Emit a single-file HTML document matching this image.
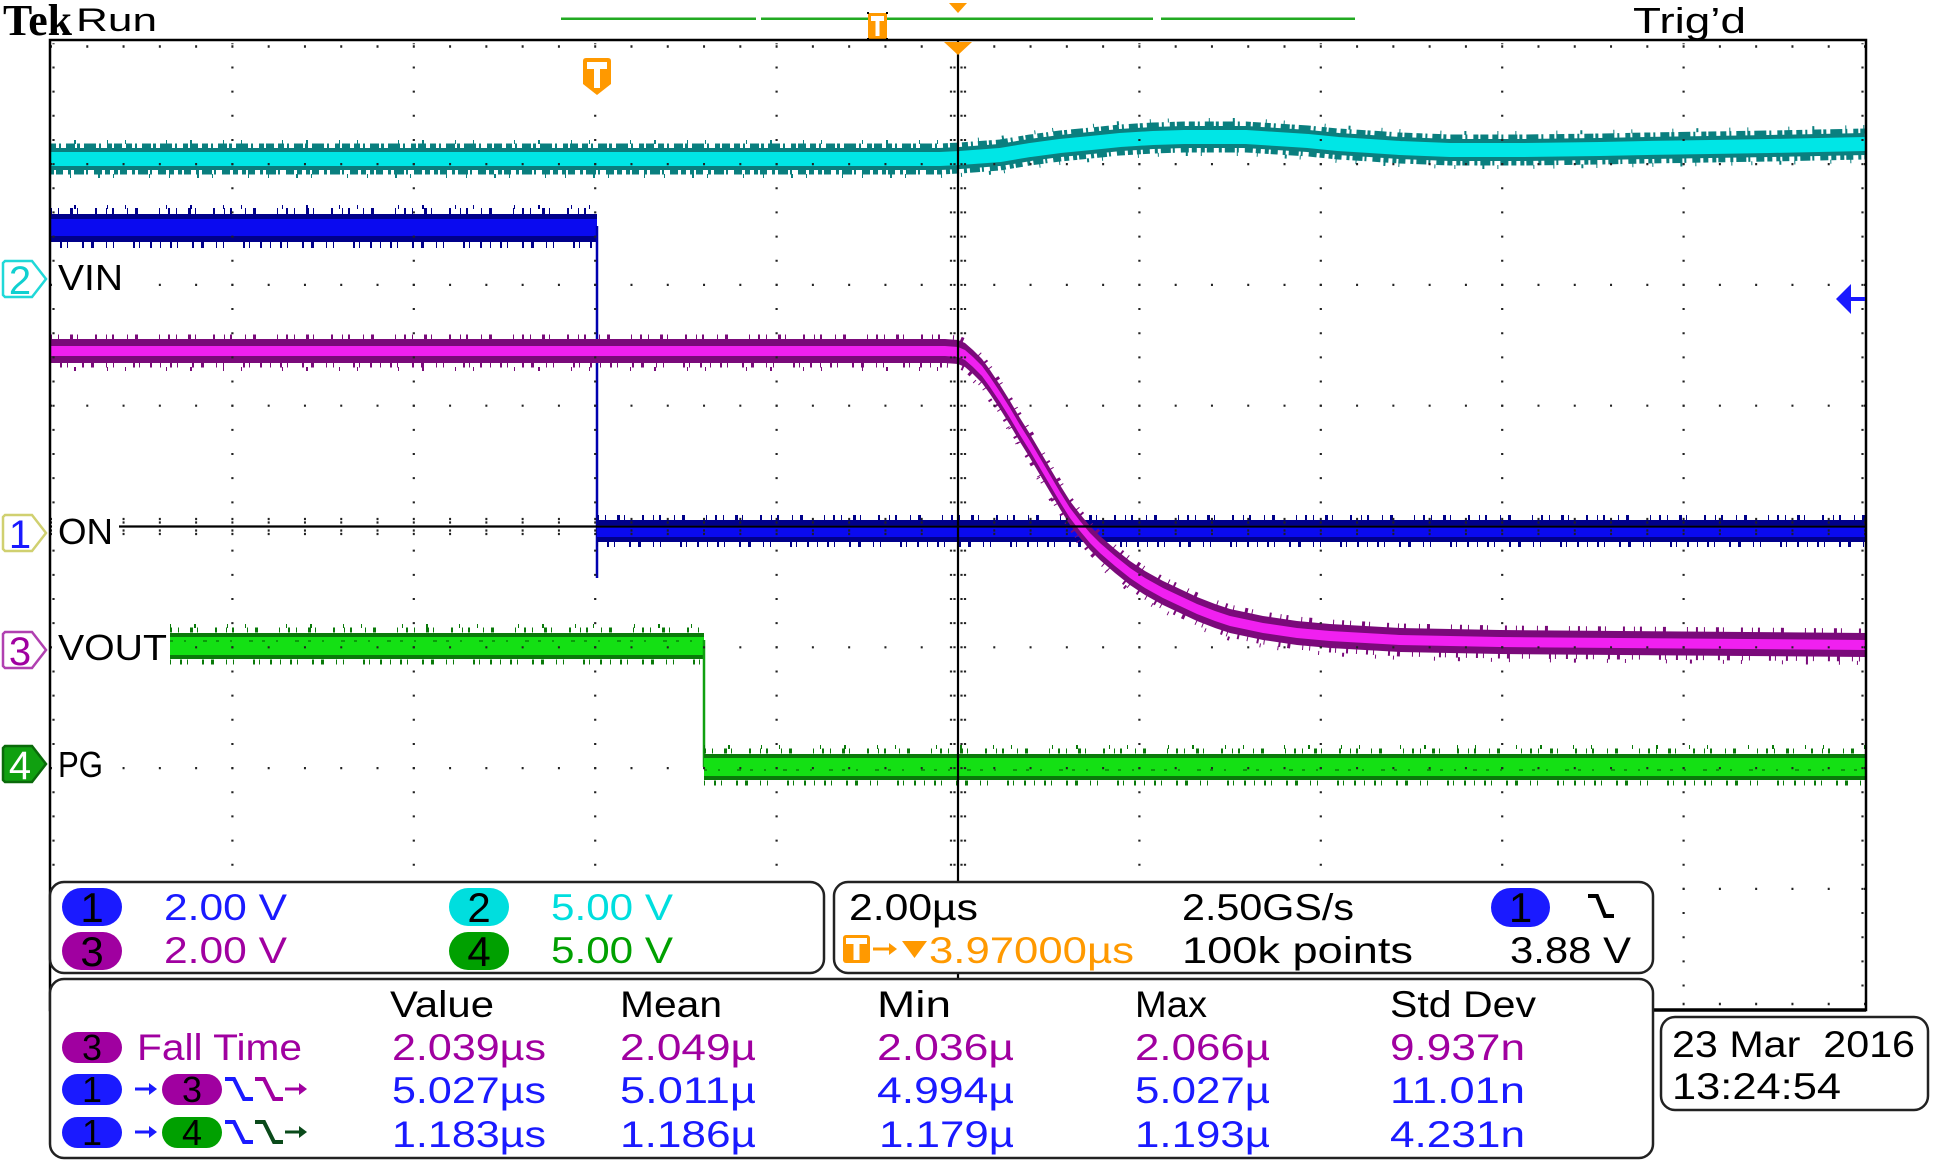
<!DOCTYPE html>
<html><head><meta charset="utf-8">
<style>
html,body{margin:0;padding:0;background:#fff;}
body{width:1935px;height:1161px;overflow:hidden;}
svg{display:block;}
text{font-family:"Liberation Sans",sans-serif;}
</style></head>
<body>
<svg width="1935" height="1161" viewBox="0 0 1935 1161" xmlns="http://www.w3.org/2000/svg">
<rect x="0" y="0" width="1935" height="1161" fill="#fff"/>

<!-- header -->
<text x="3" y="35" style="font-family:'Liberation Serif',serif" font-weight="bold" font-size="44" textLength="69" lengthAdjust="spacingAndGlyphs">Tek</text>
<text x="76" y="31" font-size="32" textLength="81" lengthAdjust="spacingAndGlyphs">Run</text>
<text x="1633" y="33" font-size="36" textLength="113" lengthAdjust="spacingAndGlyphs">Trig’d</text>

<g stroke="#22aa22" stroke-width="2.5">
<line x1="561" y1="18.7" x2="756" y2="18.7"/>
<line x1="761" y1="18.7" x2="1153" y2="18.7"/>
<line x1="1161" y1="18.7" x2="1355" y2="18.7"/>
</g>
<rect x="868" y="13" width="19" height="26" fill="#ff9900"/>
<rect x="871" y="16" width="13" height="5" fill="#fff"/>
<rect x="875.5" y="16" width="4" height="20" fill="#fff"/>
<g fill="#000"><rect x="867" y="12" width="2" height="2"/><rect x="886" y="12" width="2" height="2"/><rect x="867" y="38" width="2" height="2"/><rect x="886" y="38" width="2" height="2"/></g>
<polygon points="949,3 967,3 958,13" fill="#ff9900"/>

<!-- ===== TRACES ===== -->
<!-- cyan ch2 -->
<g fill="none">
<path d="M50,159 L940,159 L960,158 L1000,155 L1030,150 L1060,146 L1091,143 L1120,140 L1153,138 L1184,137 L1215,137 L1246,137 L1277,139 L1308,141 L1338,144 L1370,146 L1400,148 L1450,150 L1523,150 L1600,149 L1647,148 L1710,147 L1770,146 L1865,144" stroke="#0a7f7f" stroke-width="22"/>
<path d="M50,159 L940,159 L960,158 L1000,155 L1030,150 L1060,146 L1091,143 L1120,140 L1153,138 L1184,137 L1215,137 L1246,137 L1277,139 L1308,141 L1338,144 L1370,146 L1400,148 L1450,150 L1523,150 L1600,149 L1647,148 L1710,147 L1770,146 L1865,144" transform="translate(0,-13)" stroke="#0a7f7f" stroke-width="5" stroke-dasharray="6 3 2 5 9 2 3 4 12 3 2 6 5 2 8 4"/>
<path d="M50,159 L940,159 L960,158 L1000,155 L1030,150 L1060,146 L1091,143 L1120,140 L1153,138 L1184,137 L1215,137 L1246,137 L1277,139 L1308,141 L1338,144 L1370,146 L1400,148 L1450,150 L1523,150 L1600,149 L1647,148 L1710,147 L1770,146 L1865,144" transform="translate(0,13)" stroke="#0a7f7f" stroke-width="5" stroke-dasharray="4 2 7 5 3 3 10 2 2 6 8 3 5 4"/>
<path d="M50,159 L940,159 L960,158 L1000,155 L1030,150 L1060,146 L1091,143 L1120,140 L1153,138 L1184,137 L1215,137 L1246,137 L1277,139 L1308,141 L1338,144 L1370,146 L1400,148 L1450,150 L1523,150 L1600,149 L1647,148 L1710,147 L1770,146 L1865,144" transform="translate(0,-17)" stroke="#0a7f7f" stroke-width="4" stroke-dasharray="1 23 2 31 1 17 1 40"/>
<path d="M50,159 L940,159 L960,158 L1000,155 L1030,150 L1060,146 L1091,143 L1120,140 L1153,138 L1184,137 L1215,137 L1246,137 L1277,139 L1308,141 L1338,144 L1370,146 L1400,148 L1450,150 L1523,150 L1600,149 L1647,148 L1710,147 L1770,146 L1865,144" transform="translate(0,17)" stroke="#0a7f7f" stroke-width="4" stroke-dasharray="1 19 1 27 2 13 1 35"/>
<path d="M50,159 L940,159 L960,158 L1000,155 L1030,150 L1060,146 L1091,143 L1120,140 L1153,138 L1184,137 L1215,137 L1246,137 L1277,139 L1308,141 L1338,144 L1370,146 L1400,148 L1450,150 L1523,150 L1600,149 L1647,148 L1710,147 L1770,146 L1865,144" stroke="#00e6e6" stroke-width="14"/>
</g>

<!-- blue ch1 -->
<g>
<rect x="50" y="214" width="547" height="28" fill="#00008a"/>
<line x1="50" y1="211" x2="597" y2="211" stroke="#00008a" stroke-width="6" stroke-dasharray="2 6 1 11 3 4 1 17 2 9 1 5 2 13 1 7 3 21 1 8"/>
<line x1="50" y1="245" x2="597" y2="245" stroke="#00008a" stroke-width="6" stroke-dasharray="1 9 2 5 1 14 2 7 3 12 1 6 1 19 2 4 1 10 2 8"/>
<line x1="50" y1="207" x2="597" y2="207" stroke="#00008a" stroke-width="4" stroke-dasharray="1 23 2 31 1 17 1 40"/>
<rect x="50" y="219" width="547" height="17" fill="#0a0af0"/>
<line x1="597" y1="226" x2="597" y2="578" stroke="#0000b0" stroke-width="2.5"/>
<rect x="597" y="520" width="1269" height="22" fill="#00008a"/>
<line x1="597" y1="517.5" x2="1866" y2="517.5" stroke="#00008a" stroke-width="5" stroke-dasharray="2 6 1 11 3 4 1 17 2 9 1 5 2 13 1 7 3 21 1 8"/>
<line x1="597" y1="544.5" x2="1866" y2="544.5" stroke="#00008a" stroke-width="5" stroke-dasharray="1 9 2 5 1 14 2 7 3 12 1 6 1 19 2 4 1 10 2 8"/>
<rect x="597" y="525" width="1269" height="12" fill="#0a0af0"/>
</g>

<!-- green ch4 -->
<g>
<rect x="170" y="633" width="534" height="26" fill="#0a7a0a"/>
<line x1="170" y1="630" x2="704" y2="630" stroke="#0a7a0a" stroke-width="5" stroke-dasharray="2 6 1 11 3 4 1 17 2 9 1 5 2 13 1 7 3 21 1 8"/>
<line x1="170" y1="662" x2="704" y2="662" stroke="#0a7a0a" stroke-width="5" stroke-dasharray="1 9 2 5 1 14 2 7 3 12 1 6 1 19 2 4 1 10 2 8"/>
<line x1="170" y1="626" x2="704" y2="626" stroke="#0a7a0a" stroke-width="4" stroke-dasharray="1 23 2 31 1 17 1 40"/>
<rect x="170" y="637" width="534" height="18" fill="#14e014"/>
<line x1="170" y1="641" x2="704" y2="641" stroke="#0a9a0a" stroke-width="2" stroke-dasharray="3 11 2 17 4 9"/>
<line x1="704" y1="640" x2="704" y2="767" stroke="#10a010" stroke-width="2.5"/>
<rect x="704" y="754" width="1162" height="26" fill="#0a7a0a"/>
<line x1="704" y1="751" x2="1866" y2="751" stroke="#0a7a0a" stroke-width="5" stroke-dasharray="2 6 1 11 3 4 1 17 2 9 1 5 2 13 1 7 3 21 1 8"/>
<line x1="704" y1="783" x2="1866" y2="783" stroke="#0a7a0a" stroke-width="5" stroke-dasharray="1 9 2 5 1 14 2 7 3 12 1 6 1 19 2 4 1 10 2 8"/>
<line x1="704" y1="747" x2="1866" y2="747" stroke="#0a7a0a" stroke-width="4" stroke-dasharray="1 23 2 31 1 17 1 40"/>
<rect x="704" y="758" width="1162" height="18" fill="#14e014"/>
<line x1="704" y1="770" x2="1866" y2="770" stroke="#0a9a0a" stroke-width="2" stroke-dasharray="3 11 2 17 4 9"/>
</g>

<!-- magenta ch3 -->
<g>
<polygon fill="#7a0a7a" points="50,339 945,339 958,340 965,343 973,350 982,359 990,370 1000,385 1010,401 1020,418 1030,434 1040,451 1050,468 1060,485 1070,501 1080,514 1090,526 1100,536 1115,549 1130,561 1145,571 1163,581 1180,589 1197,597 1215,604 1230,609 1263,616 1297,621 1330,624 1400,628 1500,630 1866,633 1866,657 1500,654 1400,652 1330,648 1297,645 1263,640 1230,633 1215,628 1197,621 1180,613 1163,605 1145,595 1130,585 1115,573 1100,560 1090,550 1080,538 1070,525 1060,509 1050,492 1040,475 1030,458 1020,442 1010,425 1000,409 990,394 982,383 973,374 965,367 958,364 945,363 50,363"/>
<polyline fill="none" stroke="#7a0a7a" stroke-width="5" transform="translate(0,-14)" stroke-dasharray="2 6 1 11 3 4 1 17 2 9 1 5 2 13 1 7 3 21 1 8" points="50,351 945,351 958,352 965,355 973,362 982,371 990,382 1000,397 1010,413 1020,430 1030,446 1040,463 1050,480 1060,497 1070,513 1080,526 1090,538 1100,548 1115,561 1130,573 1145,583 1163,593 1180,601 1197,609 1215,616 1230,621 1263,628 1297,633 1330,636 1400,640 1500,642 1866,645"/>
<polyline fill="none" stroke="#7a0a7a" stroke-width="5" transform="translate(0,14)" stroke-dasharray="1 9 2 5 1 14 2 7 3 12 1 6 1 19 2 4 1 10 2 8" points="50,351 945,351 958,352 965,355 973,362 982,371 990,382 1000,397 1010,413 1020,430 1030,446 1040,463 1050,480 1060,497 1070,513 1080,526 1090,538 1100,548 1115,561 1130,573 1145,583 1163,593 1180,601 1197,609 1215,616 1230,621 1263,628 1297,633 1330,636 1400,640 1500,642 1866,645"/>
<polyline fill="none" stroke="#7a0a7a" stroke-width="4" transform="translate(0,18)" stroke-dasharray="1 23 2 31 1 17 1 40" points="50,351 945,351 958,352 965,355 973,362 982,371 990,382 1000,397 1010,413 1020,430 1030,446 1040,463 1050,480 1060,497 1070,513 1080,526 1090,538 1100,548 1115,561 1130,573 1145,583 1163,593 1180,601 1197,609 1215,616 1230,621 1263,628 1297,633 1330,636 1400,640 1500,642 1866,645"/>
<polygon fill="#f020f0" points="50,346 945,346 958,347 965,350 973,357 982,366 990,377 1000,392 1010,408 1020,425 1030,441 1040,458 1050,475 1060,492 1070,508 1080,521 1090,533 1100,543 1115,556 1130,568 1145,578 1163,588 1180,596 1197,604 1215,611 1230,616 1263,623 1297,628 1330,631 1400,635 1500,637 1866,640 1866,650 1500,647 1400,645 1330,641 1297,638 1263,633 1230,626 1215,621 1197,614 1180,606 1163,598 1145,588 1130,578 1115,566 1100,553 1090,543 1080,531 1070,518 1060,502 1050,485 1040,468 1030,451 1020,435 1010,418 1000,402 990,387 982,376 973,367 965,360 958,357 945,356 50,356"/>
</g>

<!-- ===== GRATICULE ===== -->
<g stroke="#222" stroke-width="2.2" fill="none">
<g stroke-dasharray="2 22.16" stroke-dashoffset="1">
<line x1="232.4" y1="43.3" x2="232.4" y2="1009.7"/>
<line x1="413.8" y1="43.3" x2="413.8" y2="1009.7"/>
<line x1="595.2" y1="43.3" x2="595.2" y2="1009.7"/>
<line x1="776.6" y1="43.3" x2="776.6" y2="1009.7"/>
<line x1="1139.4" y1="43.3" x2="1139.4" y2="1009.7"/>
<line x1="1320.8" y1="43.3" x2="1320.8" y2="1009.7"/>
<line x1="1502.2" y1="43.3" x2="1502.2" y2="1009.7"/>
<line x1="1683.6" y1="43.3" x2="1683.6" y2="1009.7"/>
<line x1="53.5" y1="43.3" x2="53.5" y2="1009.7"/>
<line x1="1862.5" y1="43.3" x2="1862.5" y2="1009.7"/>
<line x1="951" y1="43.3" x2="951" y2="1009.7"/>
<line x1="954.5" y1="43.3" x2="954.5" y2="1009.7"/>
<line x1="961.5" y1="43.3" x2="961.5" y2="1009.7"/>
<line x1="965" y1="43.3" x2="965" y2="1009.7"/>
</g>
<g stroke-dasharray="2 34.28" stroke-dashoffset="1">
<line x1="51" y1="164.1" x2="1865" y2="164.1"/>
<line x1="51" y1="284.9" x2="1865" y2="284.9"/>
<line x1="51" y1="405.7" x2="1865" y2="405.7"/>
<line x1="51" y1="647.3" x2="1865" y2="647.3"/>
<line x1="51" y1="768.1" x2="1865" y2="768.1"/>
<line x1="51" y1="888.9" x2="1865" y2="888.9"/>
<line x1="51" y1="46.5" x2="1865" y2="46.5" stroke-width="2.4"/>
<line x1="51" y1="1004" x2="1865" y2="1004" stroke-width="2.4"/>
<line x1="51" y1="519" x2="1865" y2="519"/>
<line x1="51" y1="522.5" x2="1865" y2="522.5"/>
<line x1="51" y1="530.5" x2="1865" y2="530.5"/>
<line x1="51" y1="534" x2="1865" y2="534"/>
</g>
</g>
<line x1="958" y1="40" x2="958" y2="1010" stroke="#000" stroke-width="2.2"/>
<line x1="50" y1="526.5" x2="1866" y2="526.5" stroke="#000" stroke-width="2.2"/>
<rect x="50" y="40" width="1816" height="970" fill="none" stroke="#000" stroke-width="2.5"/>
<line x1="1653" y1="1010" x2="1866" y2="1010" stroke="#000" stroke-width="3.5"/>

<!-- trigger markers inside -->
<polygon points="944,42 972,42 958,55" fill="#ff9900"/>
<path d="M586,58 L608,58 Q611,58 611,61 L611,84 L597,95 L583,84 L583,61 Q583,58 586,58 Z" fill="#ff9900"/>
<rect x="587" y="62" width="20" height="7" fill="#fff"/>
<rect x="594" y="62" width="6" height="26" fill="#fff"/>

<!-- trigger level arrow -->
<polygon points="1836,299 1851,284 1851,314" fill="#1a1aff"/>
<line x1="1846" y1="299" x2="1865" y2="299" stroke="#1a1aff" stroke-width="4"/>

<!-- labels -->
<g fill="#fff">
<rect x="52" y="262" width="73" height="34"/>
<rect x="52" y="512" width="67" height="36"/>
<rect x="52" y="628" width="117" height="36"/>
<rect x="52" y="748" width="53" height="34"/>
</g>
<g font-size="36" fill="#000">
<text x="58" y="290" textLength="65" lengthAdjust="spacingAndGlyphs">VIN</text>
<text x="58" y="544" textLength="55" lengthAdjust="spacingAndGlyphs">ON</text>
<text x="58" y="660" textLength="109" lengthAdjust="spacingAndGlyphs">VOUT</text>
<text x="58" y="777" textLength="45" lengthAdjust="spacingAndGlyphs">PG</text>
</g>

<!-- channel markers -->
<polygon points="5,261 32,261 46,279 32,297 5,297 3,295 3,263" fill="#fff" stroke="#20d8d8" stroke-width="2.5"/>
<text x="20" y="294" font-size="40" fill="#10d0d0" text-anchor="middle">2</text>
<polygon points="5,515 32,515 46,533 32,551 5,551 3,549 3,517" fill="#fff" stroke="#d0d070" stroke-width="2.5"/>
<text x="20" y="548" font-size="40" fill="#1a1aff" text-anchor="middle">1</text>
<polygon points="5,632 32,632 46,650 32,668 5,668 3,666 3,634" fill="#fff" stroke="#b040b0" stroke-width="2.5"/>
<text x="20" y="665" font-size="40" fill="#a000a0" text-anchor="middle">3</text>
<polygon points="5,746 32,746 46,764 32,782 5,782 3,780 3,748" fill="#10a010" stroke="#0a6a0a" stroke-width="2.5"/>
<text x="20" y="779" font-size="40" fill="#fff" text-anchor="middle">4</text>

<!-- ===== READOUT BOXES ===== -->
<g fill="#fff" stroke="#222" stroke-width="2.5">
<rect x="50" y="882" width="774" height="91" rx="14"/>
<rect x="834" y="882" width="819" height="91" rx="14"/>
<rect x="50" y="979" width="1603" height="179" rx="14"/>
<rect x="1661" y="1017" width="267" height="93" rx="14"/>
</g>

<!-- box 1 -->
<rect x="62" y="888" width="60" height="38" rx="19" fill="#1a1aff"/>
<text x="92" y="922" font-size="42" text-anchor="middle">1</text>
<text x="164" y="920" font-size="37" fill="#1a1aff" textLength="123" lengthAdjust="spacingAndGlyphs">2.00 V</text>
<rect x="449" y="888" width="60" height="38" rx="19" fill="#00dede"/>
<text x="479" y="922" font-size="42" text-anchor="middle">2</text>
<text x="551" y="920" font-size="37" fill="#00dede" textLength="122" lengthAdjust="spacingAndGlyphs">5.00 V</text>
<rect x="62" y="932" width="60" height="38" rx="19" fill="#a000a0"/>
<text x="92" y="966" font-size="42" text-anchor="middle">3</text>
<text x="164" y="963" font-size="37" fill="#a000a0" textLength="123" lengthAdjust="spacingAndGlyphs">2.00 V</text>
<rect x="449" y="932" width="60" height="38" rx="19" fill="#00a000"/>
<text x="479" y="966" font-size="42" text-anchor="middle">4</text>
<text x="551" y="963" font-size="37" fill="#00a000" textLength="122" lengthAdjust="spacingAndGlyphs">5.00 V</text>

<!-- box 2 -->
<text x="849" y="920" font-size="37" textLength="129" lengthAdjust="spacingAndGlyphs">2.00µs</text>
<text x="1182" y="920" font-size="37" textLength="172" lengthAdjust="spacingAndGlyphs">2.50GS/s</text>
<rect x="1491" y="888" width="59" height="39" rx="19.5" fill="#1a1aff"/>
<text x="1520.5" y="922" font-size="42" text-anchor="middle">1</text>
<path d="M1588,896 L1597,896 L1605,916 L1614,916" fill="none" stroke="#000" stroke-width="4"/>
<rect x="843" y="935" width="27" height="28" rx="3" fill="#ff9900"/>
<rect x="846" y="938" width="21" height="6" fill="#fff"/>
<rect x="853.5" y="938" width="6" height="22" fill="#fff"/>
<line x1="873" y1="949" x2="890" y2="949" stroke="#ff9900" stroke-width="3"/>
<polygon points="897,949 889,943 889,955" fill="#ff9900"/>
<polygon points="902,941 927,941 914.5,958" fill="#ff9900"/>
<text x="929" y="963" font-size="37" fill="#ff9900" textLength="205" lengthAdjust="spacingAndGlyphs">3.97000µs</text>
<text x="1182" y="963" font-size="37" textLength="231" lengthAdjust="spacingAndGlyphs">100k points</text>
<text x="1510" y="963" font-size="37" textLength="121" lengthAdjust="spacingAndGlyphs">3.88 V</text>

<!-- box 3 header -->
<g font-size="37" fill="#000">
<text x="390" y="1017" textLength="104" lengthAdjust="spacingAndGlyphs">Value</text>
<text x="620" y="1017" textLength="102" lengthAdjust="spacingAndGlyphs">Mean</text>
<text x="877" y="1017" textLength="74" lengthAdjust="spacingAndGlyphs">Min</text>
<text x="1135" y="1017" textLength="72" lengthAdjust="spacingAndGlyphs">Max</text>
<text x="1390" y="1017" textLength="146" lengthAdjust="spacingAndGlyphs">Std Dev</text>
</g>

<!-- row 1 -->
<rect x="62" y="1032" width="60" height="31" rx="15.5" fill="#a000a0"/>
<text x="92" y="1060" font-size="36" text-anchor="middle">3</text>
<g font-size="37" fill="#a000a0">
<text x="137" y="1060" textLength="165" lengthAdjust="spacingAndGlyphs">Fall Time</text>
<text x="392" y="1060" textLength="154" lengthAdjust="spacingAndGlyphs">2.039µs</text>
<text x="620" y="1060" textLength="136" lengthAdjust="spacingAndGlyphs">2.049µ</text>
<text x="877" y="1060" textLength="137" lengthAdjust="spacingAndGlyphs">2.036µ</text>
<text x="1135" y="1060" textLength="135" lengthAdjust="spacingAndGlyphs">2.066µ</text>
<text x="1390" y="1060" textLength="135" lengthAdjust="spacingAndGlyphs">9.937n</text>
</g>

<!-- row 2 -->
<rect x="62" y="1074" width="60" height="31" rx="15.5" fill="#1a1aff"/>
<text x="92" y="1102" font-size="36" text-anchor="middle">1</text>
<line x1="135" y1="1089" x2="150" y2="1089" stroke="#1a1aff" stroke-width="3"/>
<polygon points="157,1089 149,1083 149,1095" fill="#1a1aff"/>
<rect x="162" y="1074" width="60" height="31" rx="15.5" fill="#a000a0"/>
<text x="192" y="1102" font-size="36" text-anchor="middle">3</text>
<path d="M225,1079 L234,1079 L244,1099 L253,1099" fill="none" stroke="#1a1aff" stroke-width="4"/>
<path d="M255,1079 L264,1079 L274,1099 L283,1099" fill="none" stroke="#a000a0" stroke-width="4"/>
<line x1="285" y1="1089" x2="300" y2="1089" stroke="#a000a0" stroke-width="3"/>
<polygon points="307,1089 299,1083 299,1095" fill="#a000a0"/>
<g font-size="37" fill="#1a1aff">
<text x="392" y="1103" textLength="154" lengthAdjust="spacingAndGlyphs">5.027µs</text>
<text x="620" y="1103" textLength="136" lengthAdjust="spacingAndGlyphs">5.011µ</text>
<text x="877" y="1103" textLength="137" lengthAdjust="spacingAndGlyphs">4.994µ</text>
<text x="1135" y="1103" textLength="135" lengthAdjust="spacingAndGlyphs">5.027µ</text>
<text x="1390" y="1103" textLength="135" lengthAdjust="spacingAndGlyphs">11.01n</text>
</g>

<!-- row 3 -->
<rect x="62" y="1117" width="60" height="31" rx="15.5" fill="#1a1aff"/>
<text x="92" y="1145" font-size="36" text-anchor="middle">1</text>
<line x1="135" y1="1132" x2="150" y2="1132" stroke="#1a1aff" stroke-width="3"/>
<polygon points="157,1132 149,1126 149,1138" fill="#1a1aff"/>
<rect x="162" y="1117" width="60" height="31" rx="15.5" fill="#00a000"/>
<text x="192" y="1145" font-size="36" text-anchor="middle">4</text>
<path d="M225,1122 L234,1122 L244,1142 L253,1142" fill="none" stroke="#1a1aff" stroke-width="4"/>
<path d="M255,1122 L264,1122 L274,1142 L283,1142" fill="none" stroke="#0a4a1a" stroke-width="4"/>
<line x1="285" y1="1132" x2="300" y2="1132" stroke="#0a4a1a" stroke-width="3"/>
<polygon points="307,1132 299,1126 299,1138" fill="#0a4a1a"/>
<g font-size="37" fill="#1a1aff">
<text x="392" y="1147" textLength="154" lengthAdjust="spacingAndGlyphs">1.183µs</text>
<text x="620" y="1147" textLength="136" lengthAdjust="spacingAndGlyphs">1.186µ</text>
<text x="879" y="1147" textLength="135" lengthAdjust="spacingAndGlyphs">1.179µ</text>
<text x="1135" y="1147" textLength="135" lengthAdjust="spacingAndGlyphs">1.193µ</text>
<text x="1390" y="1147" textLength="135" lengthAdjust="spacingAndGlyphs">4.231n</text>
</g>

<!-- date box -->
<text x="1672" y="1057" font-size="37" textLength="243" lengthAdjust="spacingAndGlyphs">23 Mar&#160; 2016</text>
<text x="1672" y="1099" font-size="37" textLength="169" lengthAdjust="spacingAndGlyphs">13:24:54</text>
</svg>
</body></html>
